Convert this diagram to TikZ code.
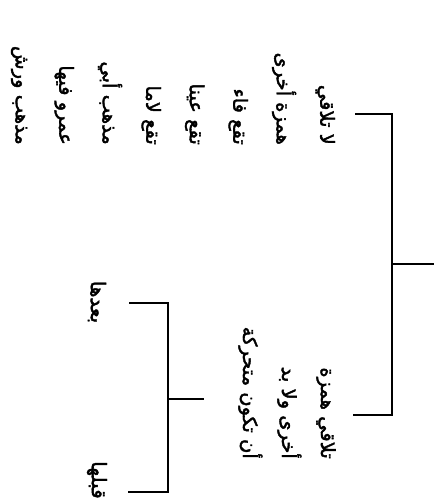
\documentclass[tikz,border=0pt]{standalone}
\usepackage{fontspec}
\newfontfamily\arabicfont[Script=Arabic,FakeBold=2]{DejaVu Sans}
\TeXXeTstate=1
\begin{document}
\begin{tikzpicture}[x=1pt,y=-1pt,
  link/.style={line width=1.4pt, line cap=rect},
  argroup/.style={font=\arabicfont\fontsize{19.5}{#1}\selectfont, rotate=-90, align=right, inner sep=0pt},
  leaf/.style={font=\arabicfont\fontsize{20}{24}\selectfont, rotate=-90, inner sep=0pt}]
\useasboundingbox (0,0) rectangle (438,504);
% main bracket
\coordinate (root) at (433,264);
\coordinate (j1) at (392,264);
\coordinate (a1) at (392,114);
\coordinate (a0) at (356,114);
\coordinate (b1) at (392,415);
\coordinate (b0) at (354,415);
% second bracket
\coordinate (j2s) at (203,399);
\coordinate (j2) at (168,399);
\coordinate (c1) at (168,303);
\coordinate (c0) at (130,303);
\coordinate (d1) at (168,492);
\coordinate (d0) at (129,492);
\node[argroup=43.5, anchor=east] (A) at (173,145)
 {\beginR لا تلاقي\endR\\\beginR همزة أخرى\endR\\\beginR تقع فاء\endR\\\beginR تقع عينا\endR\\\beginR تقع لاما\endR\\\beginR مذهب أبي\endR\\\beginR عمرو فيها\endR\\\beginR مذهب ورش\endR};
\node[argroup=39, anchor=east] (B) at (287,459)
 {\beginR تلاقي همزة\endR\\\beginR أخرى ولا بد\endR\\\beginR أن تكون متحركة\endR};
\node[leaf] (C) at (97,302) {\beginR بعدها\endR};
\node[leaf] (D) at (97,480) {\beginR قبلها\endR};
\draw[link] (j1) -- (root);
\draw[link] (a0) -- (a1) -- (b1) -- (b0);
\draw[link] (j2s) -- (j2);
\draw[link] (c0) -- (c1) -- (d1) -- (d0);
\end{tikzpicture}
\end{document}
